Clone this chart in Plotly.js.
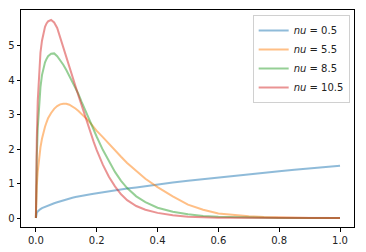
<!DOCTYPE html>
<html>
<head>
<meta charset="utf-8">
<script src="https://cdn.plot.ly/plotly-3.0.1.min.js"></script>
<style>html,body{margin:0;padding:0;background:#fff;}#chart{width:366px;height:252px;}</style>
</head>
<body>
<div id="chart"></div>
<script>
// Common x grid
var xs = [0, 0.001, 0.003, 0.006, 0.01, 0.015, 0.02, 0.025, 0.03, 0.035,
          0.04, 0.05, 0.06, 0.07, 0.08, 0.09, 0.1, 0.11, 0.12, 0.13,
          0.14, 0.15, 0.16, 0.17, 0.18, 0.19, 0.2, 0.22, 0.24, 0.26,
          0.28, 0.3, 0.33, 0.36, 0.4, 0.45, 0.5, 0.55, 0.6, 0.65,
          0.7, 0.75, 0.8, 0.85, 0.9, 0.95, 1.0];

var seriesNames = ["0.5", "5.5", "8.5", "10.5"];

var nu05 = [0, 0.1, 0.15, 0.19, 0.23, 0.26, 0.29, 0.31, 0.33, 0.35,
            0.37, 0.40, 0.43, 0.46, 0.49, 0.52, 0.54, 0.57, 0.59, 0.61,
            0.63, 0.645, 0.66, 0.675, 0.69, 0.705, 0.72, 0.75, 0.775, 0.80,
            0.83, 0.86, 0.89, 0.93, 0.98, 1.03, 1.08, 1.13, 1.18, 1.23,
            1.27, 1.32, 1.36, 1.40, 1.44, 1.48, 1.52];

var nu55 = [0, 0.5, 0.95, 1.35, 1.7, 2.05, 2.3, 2.5, 2.65, 2.78,
            2.9, 3.05, 3.17, 3.25, 3.3, 3.32, 3.32, 3.29, 3.24, 3.18,
            3.11, 3.03, 2.95, 2.85, 2.75, 2.64, 2.53, 2.35, 2.15, 1.96,
            1.78, 1.6, 1.36, 1.14, 0.9, 0.63, 0.39, 0.24, 0.13, 0.08,
            0.05, 0.03, 0.016, 0.008, 0.004, 0.002, 0.001];

var nu85 = [0, 0.8, 1.8, 2.6, 3.25, 3.8, 4.15, 4.38, 4.52, 4.62,
            4.7, 4.77, 4.78, 4.7, 4.58, 4.45, 4.3, 4.13, 3.96, 3.79,
            3.6, 3.38, 3.17, 2.96, 2.75, 2.55, 2.36, 1.98, 1.64, 1.34,
            1.08, 0.87, 0.63, 0.46, 0.3, 0.18, 0.11, 0.06, 0.035, 0.02,
            0.01, 0.005, 0.002, 0, 0, 0, 0];

var nu105 = [0, 1.0, 2.3, 3.4, 4.2, 4.8, 5.15, 5.4, 5.55, 5.65,
             5.71, 5.75, 5.68, 5.52, 5.25, 4.98, 4.7, 4.42, 4.12, 3.83,
             3.55, 3.27, 2.99, 2.72, 2.46, 2.21, 1.97, 1.55, 1.2, 0.92,
             0.69, 0.52, 0.35, 0.24, 0.15, 0.08, 0.04, 0.02, 0.01, 0.005,
             0.002, 0.001, 0, 0, 0, 0, 0];

var xTickVals = [0, 0.2, 0.4, 0.6, 0.8, 1.0];
var xTickText = ["0.0", "0.2", "0.4", "0.6", "0.8", "1.0"];
var yTickVals = [0, 1, 2, 3, 4, 5];
var yTickText = ["0", "1", "2", "3", "4", "5"];

var colors = ["#1f77b4", "#ff7f0e", "#2ca02c", "#d62728"];
var ys = [nu05, nu55, nu85, nu105];

var traces = ys.map(function (y, i) {
  return {
    x: xs, y: y, type: "scatter", mode: "lines",
    name: "<i>nu</i> = " + seriesNames[i],
    line: {color: colors[i], width: 2},
    opacity: 0.5
  };
});

var font = {family: "DejaVu Sans, sans-serif", size: 10, color: "#222"};
var layout = {
  width: 366, height: 252,
  margin: {l: 21, r: 12, t: 10, b: 25, pad: 0},
  paper_bgcolor: "#fff", plot_bgcolor: "#fff",
  font: font,
  showlegend: true,
  xaxis: {
    range: [-0.049, 1.046], tickvals: xTickVals, ticktext: xTickText,
    showgrid: false, zeroline: false,
    showline: true, linecolor: "#000", linewidth: 1, mirror: true,
    ticks: "outside", ticklen: 3.5, tickwidth: 1, tickcolor: "#000",
    tickfont: font
  },
  yaxis: {
    range: [-0.26, 6.04], tickvals: yTickVals, ticktext: yTickText,
    showgrid: false, zeroline: false,
    showline: true, linecolor: "#000", linewidth: 1, mirror: true,
    ticks: "outside", ticklen: 3.5, tickwidth: 1, tickcolor: "#000",
    tickfont: font
  },
  legend: {
    x: 0.987, xanchor: "right", y: 0.977, yanchor: "top",
    bgcolor: "rgba(255,255,255,0.8)", bordercolor: "#d0d0d0", borderwidth: 1,
    font: {family: "DejaVu Sans, sans-serif", size: 10, color: "#222"},
    itemwidth: 30, tracegroupgap: 0
  }
};

Plotly.newPlot("chart", traces, layout, {displayModeBar: false, staticPlot: true});
</script>
</body>
</html>
